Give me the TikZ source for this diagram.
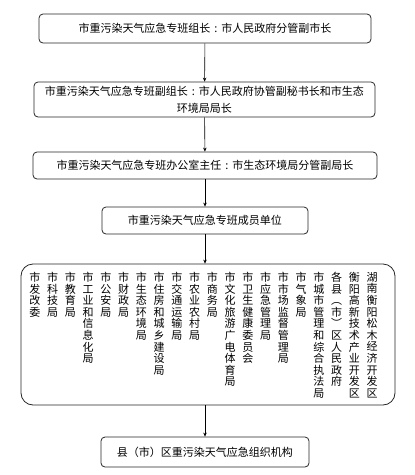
\documentclass[tikz,border=0pt]{standalone}
\usepackage{fontspec}
\setmainfont{Noto Sans CJK SC}
\usetikzlibrary{arrows.meta}

% stack the characters of a name one below the other
\def\vstack#1#2{#1\ifx#2\relax\else\\\expandafter\vstack\expandafter#2\fi}
% full width colon, centred in its cell
\newcommand\cjkcolon{\hbox to 1em{\hss:\hss}}

\begin{document}
\begin{tikzpicture}[x=1pt,y=-1pt,
    unitbox/.style={rectangle,draw=black!85,line width=.8pt,rounded corners=4pt,inner sep=0pt,
                    font=\fontsize{11}{17}\selectfont,align=center},
    colname/.style={anchor=north,inner sep=0pt,align=center,font=\fontsize{11}{11.6}\selectfont},
    flow/.style={line width=.6pt,-{Stealth[length=4pt,width=3.5pt]}}]
  \useasboundingbox (0,0) rectangle (415,475);

  % levels of the command chain
  \node[unitbox,minimum width=332pt,minimum height=29pt] (leader) at (205,28.5) {市重污染天气应急专班组长\cjkcolon 市人民政府分管副市长};
  \node[unitbox,minimum width=341pt,minimum height=35pt] (deputy) at (204.5,99.5) {市重污染天气应急专班副组长\cjkcolon 市人民政府协管副秘书长和市生态\\环境局局长};
  \node[unitbox,minimum width=344pt,minimum height=27pt] (office) at (205,165.5) {市重污染天气应急专班办公室主任\cjkcolon 市生态环境局分管副局长};
  \node[unitbox,minimum width=206pt,minimum height=27pt] (members) at (205,220.5) {市重污染天气应急专班成员单位};
  \node[unitbox,rounded corners=12pt,minimum width=374pt,minimum height=141pt] (units) at (208,334.5) {};
  \node[unitbox,minimum width=208pt,minimum height=30pt] (county) at (205,452) {县（市）区重污染天气应急组织机构};

  % member units, one column each
  \foreach \name [count=\i] in {市发改委,市科技局,市教育局,市工业和信息化局,市公安局,市财政局,
      市生态环境局,市住房和城乡建设局,市交通运输局,市农业农村局,市商务局,市文化旅游广电体育局,
      市卫生健康委员会,市应急管理局,市市场监督管理局,市气象局,市城市管理和综合执法局,
      各县︵市︶区人民政府,衡阳高新技术产业开发区,湖南衡阳松木经济开发区}
    \node[colname] (unit\i) at ({35+(\i-1)*17.74},272) {\expandafter\vstack\name\relax};

  % arrows
  \draw[flow] (leader) -- (deputy);
  \draw[flow] (deputy) -- (office);
  \draw[flow] (office) -- (members);
  \draw[flow] (members.south) -- (members.south |- units.north);
  \draw[flow] (units.south -| county.north) -- (county.north);
\end{tikzpicture}
\end{document}
